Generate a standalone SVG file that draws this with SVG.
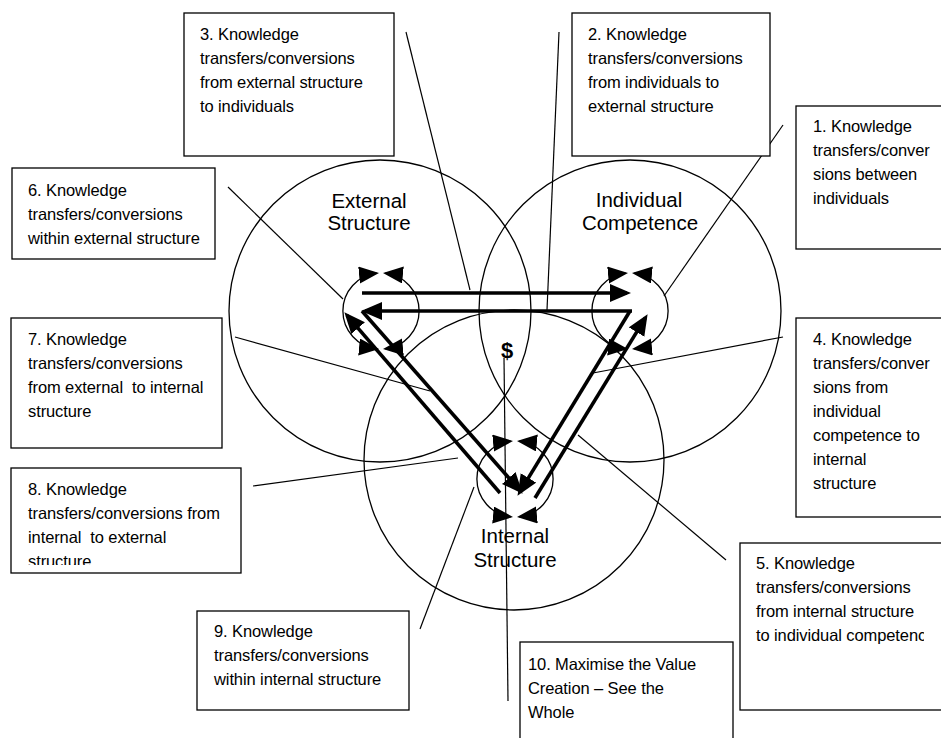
<svg xmlns="http://www.w3.org/2000/svg" width="941" height="738" viewBox="0 0 941 738">
<style>
.box{fill:#fff;stroke:#000;stroke-width:1.3}
.bt{font-family:"Liberation Sans",Arial,sans-serif;font-size:16.5px;fill:#000;letter-spacing:-0.1px}
.cl{font-family:"Liberation Sans",Arial,sans-serif;font-size:20.5px;fill:#000;text-anchor:middle}
.big{fill:none;stroke:#000;stroke-width:1.3}
.small{fill:none;stroke:#000;stroke-width:1.3;marker-start:url(#sh);marker-end:url(#sh)}
.thick{fill:none;stroke:#000;stroke-width:3.6;marker-end:url(#ah)}
.thin{fill:none;stroke:#000;stroke-width:1.2}
</style>
<defs>
<marker id="ah" markerUnits="userSpaceOnUse" markerWidth="24" markerHeight="20" refX="17" refY="9" orient="auto">
<path d="M0,0 L21,9 L0,18 z" fill="#000"/>
</marker>
<marker id="sh" markerUnits="userSpaceOnUse" markerWidth="22" markerHeight="18" refX="18" refY="8.5" orient="auto-start-reverse">
<path d="M0,0 L20,8.5 L0,17 z" fill="#000"/>
</marker>
<clipPath id="c8"><rect x="0" y="468" width="260" height="97"/></clipPath>
<clipPath id="c6"><rect x="0" y="160" width="200" height="110"/></clipPath>
<clipPath id="c5"><rect x="740" y="540" width="184" height="180"/></clipPath>
</defs>

<g id="circles">
<circle id="external-structure-circle" class="big" cx="380" cy="311" r="151"/>
<circle id="individual-competence-circle" class="big" cx="630" cy="311" r="151"/>
<circle id="internal-structure-circle" class="big" cx="514" cy="460" r="150"/>
</g>

<g id="circle-labels">
<text class="cl" x="369" y="208">External</text>
<text class="cl" x="369" y="230">Structure</text>
<text class="cl" x="639" y="207">Individual</text>
<text class="cl" x="640" y="230">Competence</text>
<text class="cl" x="515" y="543">Internal</text>
<text class="cl" x="515" y="567">Structure</text>
</g>

<g id="connectors">
<!-- small circular arrows -->
<path class="small" d="M385,273.2 A38,38 0 0 1 385,348.8"/>
<path class="small" d="M377,273.2 A38,38 0 0 0 377,348.8"/>
<path class="small" d="M634,273.2 A38,38 0 0 1 634,348.8"/>
<path class="small" d="M626,273.2 A38,38 0 0 0 626,348.8"/>
<path class="small" d="M519,441.2 A38,38 0 0 1 519,516.8"/>
<path class="small" d="M511,441.2 A38,38 0 0 0 511,516.8"/>
<!-- thick transfer arrows -->
<path class="thick" d="M362,293 L627,293"/>
<path class="thick" d="M632,311 L365,311"/>
<path class="thick" d="M362,311 L520,490.7"/>
<path class="thick" d="M630,311 L519.6,492.4"/>
<path class="thick" d="M500,493 L347,315.3"/>
<path class="thick" d="M535,498 L645.5,317.6"/>
<!-- label leader lines -->
<line class="thin" x1="783" y1="125" x2="664" y2="296"/>
<line class="thin" x1="559" y1="32" x2="547" y2="310"/>
<line class="thin" x1="406" y1="32" x2="470" y2="290"/>
<line class="thin" x1="783" y1="337" x2="593" y2="373"/>
<line class="thin" x1="726" y1="560" x2="578" y2="435"/>
<line class="thin" x1="228" y1="187" x2="343" y2="299"/>
<line class="thin" x1="235" y1="337" x2="430" y2="391"/>
<line class="thin" x1="253" y1="486" x2="458" y2="458"/>
<line class="thin" x1="420" y1="629" x2="474" y2="487"/>
<line class="thin" x1="508" y1="701" x2="504" y2="358"/>
</g>

<text x="507" y="358" font-family="Liberation Sans, Arial, sans-serif" font-size="22" font-weight="bold" text-anchor="middle">$</text>

<g id="box1">
<rect class="box" x="796" y="106" width="150" height="143"/>
<text class="bt"><tspan x="813" y="132">1. Knowledge</tspan><tspan x="813" y="156">transfers/conver</tspan><tspan x="813" y="180">sions between</tspan><tspan x="813" y="204">individuals</tspan></text>
</g>
<g id="box2">
<rect class="box" x="572" y="13" width="198" height="143"/>
<text class="bt"><tspan x="588" y="40">2. Knowledge</tspan><tspan x="588" y="64">transfers/conversions</tspan><tspan x="588" y="88">from individuals to</tspan><tspan x="588" y="112">external structure</tspan></text>
</g>
<g id="box3">
<rect class="box" x="184" y="13" width="210" height="143"/>
<text class="bt"><tspan x="200" y="40">3. Knowledge</tspan><tspan x="200" y="64">transfers/conversions</tspan><tspan x="200" y="88">from external structure</tspan><tspan x="200" y="112">to individuals</tspan></text>
</g>
<g id="box4">
<rect class="box" x="796" y="318" width="150" height="199"/>
<text class="bt"><tspan x="813" y="345">4. Knowledge</tspan><tspan x="813" y="369">transfers/conver</tspan><tspan x="813" y="393">sions from</tspan><tspan x="813" y="417">individual</tspan><tspan x="813" y="441">competence to</tspan><tspan x="813" y="465">internal</tspan><tspan x="813" y="489">structure</tspan></text>
</g>
<g id="box5">
<rect class="box" x="740" y="543" width="206" height="167"/>
<text class="bt" clip-path="url(#c5)"><tspan x="756" y="569">5. Knowledge</tspan><tspan x="756" y="593">transfers/conversions</tspan><tspan x="756" y="617">from internal structure</tspan><tspan x="756" y="641">to individual competence</tspan></text>
</g>
<g id="box6">
<rect class="box" x="12" y="168" width="203" height="91"/>
<text class="bt" clip-path="url(#c6)"><tspan x="28" y="196">6. Knowledge</tspan><tspan x="28" y="220">transfers/conversions</tspan><tspan x="28" y="244">within external structure</tspan></text>
</g>
<g id="box7">
<rect class="box" x="11" y="318" width="211" height="130"/>
<text class="bt"><tspan x="28" y="345">7. Knowledge</tspan><tspan x="28" y="369">transfers/conversions</tspan><tspan x="28" y="393" xml:space="preserve">from external  to internal</tspan><tspan x="28" y="417">structure</tspan></text>
</g>
<g id="box8">
<rect class="box" x="11" y="468" width="230" height="105"/>
<text class="bt" clip-path="url(#c8)"><tspan x="28" y="495">8. Knowledge</tspan><tspan x="28" y="519">transfers/conversions from</tspan><tspan x="28" y="543" xml:space="preserve">internal  to external</tspan><tspan x="28" y="567">structure</tspan></text>
</g>
<g id="box9">
<rect class="box" x="197" y="611" width="212" height="99"/>
<text class="bt"><tspan x="214" y="637">9. Knowledge</tspan><tspan x="214" y="661">transfers/conversions</tspan><tspan x="214" y="685">within internal structure</tspan></text>
</g>
<g id="box10">
<rect class="box" x="520" y="642" width="213" height="110"/>
<text class="bt"><tspan x="528" y="670">10. Maximise the Value</tspan><tspan x="528" y="694">Creation – See the</tspan><tspan x="528" y="718">Whole</tspan></text>
</g>
</svg>
